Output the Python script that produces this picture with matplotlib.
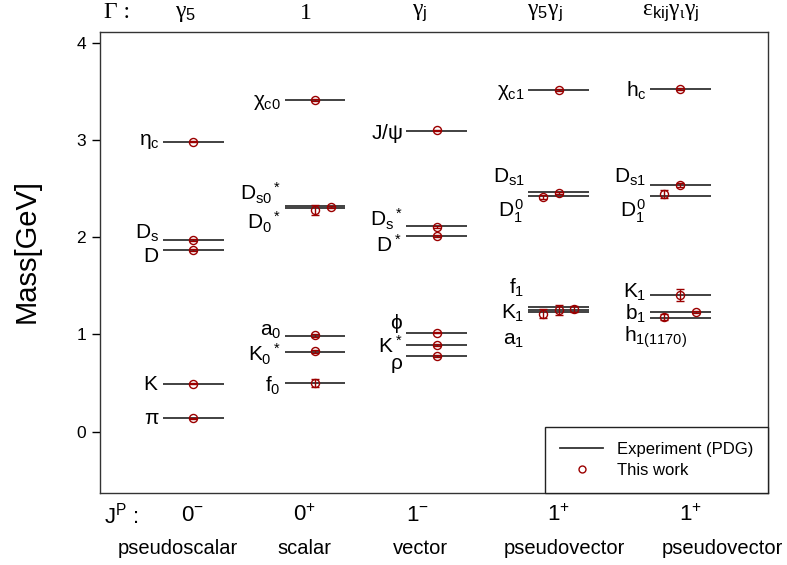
import matplotlib
matplotlib.use('Agg')
import matplotlib.pyplot as plt
from matplotlib.lines import Line2D
from matplotlib.transforms import blended_transform_factory
import numpy as np

plt.rcParams['font.family'] = 'Liberation Sans'
plt.rcParams['mathtext.fontset'] = 'custom'
plt.rcParams['mathtext.rm'] = 'Liberation Sans'
plt.rcParams['mathtext.it'] = 'Liberation Sans'
plt.rcParams['mathtext.bf'] = 'Liberation Sans:bold'
plt.rcParams['mathtext.sf'] = 'Liberation Serif'

# column headers / footers
gammas = [r'$\mathsf{\gamma}_5$', r'$\mathsf{1}$', r'$\mathsf{\gamma}_\mathrm{j}$',
          r'$\mathsf{\gamma}_5\mathsf{\gamma}_\mathrm{j}$',
          r'$\mathsf{\varepsilon}_\mathrm{kij}\mathsf{\gamma}_\mathsf{\iota}\mathsf{\gamma}_\mathrm{j}$']
jp = [r'$0^{-}$', r'$0^{+}$', r'$1^{-}$', r'$1^{+}$', r'$1^{+}$']
channels = ['pseudoscalar', 'scalar', 'vector', 'pseudovector', 'pseudovector']

# PDG masses (GeV), column index, name
pdg_col = [1, 1, 1, 1, 1,
           2, 2, 2, 2, 2, 2,
           3, 3, 3, 3, 3, 3,
           4, 4, 4, 4, 4, 4,
           5, 5, 5, 5, 5, 5]
pdg_mass = [2.984, 1.968, 1.870, 0.494, 0.140,
            3.415, 2.318, 2.300, 0.980, 0.824, 0.500,
            3.097, 2.112, 2.010, 1.019, 0.892, 0.775,
            3.511, 2.460, 2.427, 1.282, 1.253, 1.230,
            3.525, 2.535, 2.421, 1.403, 1.230, 1.166]
pdg_name = [r'$\eta_c$', r'$D_s$', r'$D$', r'$K$', r'$\pi$',
            r'$\chi_{c0}$', r'${D_{s0}}^*$', r'${D_0}^*$', r'$a_0$', r'${K_0}^*$', r'$f_0$',
            r'$J/\psi$', r'${D_s}^*$', r'$D^*$', r'$\phi$', r'$K^*$', r'$\rho$',
            r'$\chi_{c1}$', r'$D_{s1}$', r'$D_1^0$', r'$f_1$', r'$K_1$', r'$a_1$',
            r'$h_c$', r'$D_{s1}$', r'$D_1^0$', r'$K_1$', r'$b_1$', r'$h_{1(1170)}$']

# this work (same order)
lat_mass = [2.98, 1.97, 1.87, 0.494, 0.14,
            3.415, 2.315, 2.28, 0.99, 0.825, 0.50,
            3.10, 2.104, 2.015, 1.02, 0.89, 0.775,
            3.51, 2.45, 2.415, 1.265, 1.25, 1.215,
            3.525, 2.534, 2.445, 1.405, 1.231, 1.18]
lat_err = [0.005, 0.008, 0.008, 0.005, 0.005,
           0.01, 0.01, 0.05, 0.015, 0.015, 0.04,
           0.003, 0.01, 0.01, 0.01, 0.01, 0.01,
           0.01, 0.01, 0.02, 0.03, 0.05, 0.05,
           0.01, 0.02, 0.04, 0.06, 0.01, 0.03]

# horizontal shifts of the points inside a column, label heights
lat_shift = [0, 0, 0, 0, 0,
             0, 0.13, 0, 0, 0, 0,
             0, 0, 0, 0, 0, 0,
             0, 0, -0.13, 0.13, 0, -0.13,
             0, 0, -0.13, 0, 0.13, -0.13]
label_y = [2.98, 2.04, 1.80, 0.49, 0.14,
           3.38, 2.45, 2.15, 1.03, 0.79, 0.47,
           3.07, 2.18, 1.92, 1.11, 0.88, 0.68,
           3.49, 2.62, 2.27, 1.48, 1.22, 0.94,
           3.51, 2.62, 2.27, 1.43, 1.21, 0.97]

red = '#9b0000'
fig = plt.figure(figsize=(7.87, 5.65), dpi=100)
ax = fig.add_axes([100 / 787, 72 / 565, 668 / 787, 461 / 565])

col = np.array(pdg_col, dtype=float)
half = 0.25
ax.hlines(pdg_mass, col - half, col + half, color='#333333', lw=1.3, zorder=2)

xs = col + np.array(lat_shift)
ax.errorbar(xs, lat_mass, yerr=lat_err, fmt='o', mfc='none', mec=red, ecolor=red,
            ms=5.8, mew=1.0, elinewidth=1.0, capsize=3, capthick=1.0, zorder=3)

for c, ly, name in zip(pdg_col, label_y, pdg_name):
    if name.startswith(r'$h_{1'):
        ax.text(c - 0.46, ly, name, ha='left', va='center', fontsize=15)
    else:
        ax.text(c - half - 0.03, ly, name, ha='right', va='center', fontsize=15)

ax.set_xlim(0.235, 5.72)
ax.set_ylim(-0.63, 4.11)
ax.set_xticks([])
ax.set_yticks([0, 1, 2, 3, 4])
ax.tick_params(axis='y', direction='out', length=6, width=1, labelsize=12.5, pad=4)
for s in ax.spines.values():
    s.set_linewidth(1.0)
    s.set_color('#333333')

fig.text(27 / 787, 1 - 251 / 565, 'Mass[GeV]', rotation=90, ha='center', va='center', fontsize=21)

tr = blended_transform_factory(ax.transData, fig.transFigure)
ax.text(0.27, 0.977, 'Γ :', transform=tr, ha='left', va='center', fontsize=17,
        family='Liberation Serif', clip_on=False)
for x, g in zip([0.94, 1.92, 2.86, 3.89, 4.92], gammas):
    ax.text(x, 0.977, g, transform=tr, ha='center', va='center', fontsize=17, clip_on=False)

ax.text(0.27, 0.088, r'$\mathrm{J}^\mathrm{P}$ :', transform=tr, ha='left', va='center',
        fontsize=16, clip_on=False)
for x, t in zip([0.99, 1.91, 2.84, 4.0, 5.08], jp):
    ax.text(x, 0.088, t, transform=tr, ha='center', va='center', fontsize=16, clip_on=False)
for x, t in zip([0.87, 1.91, 2.87, 4.05, 5.345], channels):
    ax.text(x, 0.030, t, transform=tr, ha='center', va='center', fontsize=14.5, clip_on=False)

handles = [Line2D([], [], color='#333333', lw=1.3),
           Line2D([], [], marker='o', ls='none', mfc='none', mec=red, ms=5, mew=1.0)]
leg = ax.legend(handles, ['Experiment (PDG)', 'This work'], loc='lower right',
                fontsize=12, frameon=True, fancybox=False, framealpha=1,
                edgecolor='#222222', borderaxespad=0, handlelength=2.6,
                borderpad=0.9, labelspacing=0.35, handletextpad=0.8)
leg.get_frame().set_linewidth(1.0)

fig.savefig('out.png', dpi=100)
